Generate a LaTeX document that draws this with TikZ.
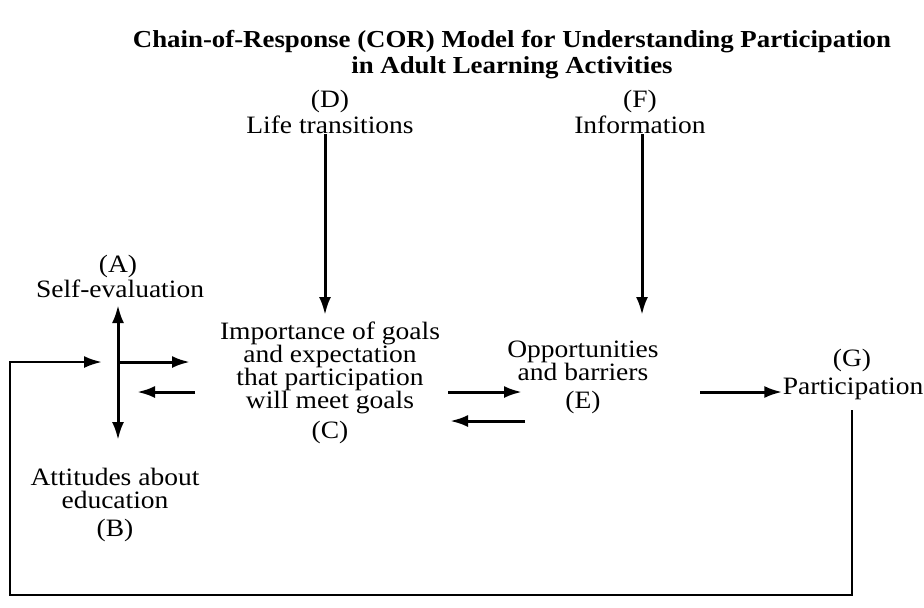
\documentclass[tikz,border=0pt]{standalone}
\usepackage{fontspec}
\setmainfont[FakeStretch=1.1]{Liberation Serif}
\usetikzlibrary{arrows.meta}
\begin{document}
\begin{tikzpicture}[x=0.5pt,y=-0.5pt,
 lbl/.style={font=\fontsize{12.5}{11.5}\selectfont, align=center, inner sep=0pt},
 tip/.style={-{Latex[length=9pt,width=6pt]}},
 arr/.style={line width=1.5pt,tip},
 ln/.style={line width=1.3pt}]
\useasboundingbox (0,0) rectangle (924,607);
\node[font=\bfseries\fontsize{12.2}{13}\selectfont, align=center, inner sep=0pt] (title) at (512,55) {Chain-of-Response (COR) Model for Understanding Participation\\in Adult Learning Activities};
% nodes
\node[lbl] (Dl) at (330,101) {(D)};
\node[lbl] (LT) at (330,125) {Life transitions};
\node[lbl] (Fl) at (640,101) {(F)};
\node[lbl] (Inf) at (640,125) {Information};
\node[lbl] (Al) at (118,266) {(A)};
\node[lbl] (SE) at (120,289) {Self-evaluation};
\node[lbl] (C) at (330,368) {Importance of goals\\and expectation\\that participation\\will meet goals};
\node[lbl] (Cl) at (330,432) {(C)};
\node[lbl] (E) at (583,361) {Opportunities\\and barriers};
\node[lbl] (El) at (583,402) {(E)};
\node[lbl] (Gl) at (852,360) {(G)};
\node[lbl] (G) at (853,389) {Participation};
\node[lbl] (B) at (115,488) {Attitudes about\\education};
\node[lbl] (Bl) at (115,530) {(B)};
% coordinates
\coordinate (dEnd) at (325,315);
\coordinate (fEnd) at (642,315);
\coordinate (vt) at (118,305);
\coordinate (vb) at (118,440);
\coordinate (cross) at (118,362);
\coordinate (toC) at (190,362);
\coordinate (fromC) at (195,392);
\coordinate (toA) at (137,392);
\coordinate (ce1) at (448,392);
\coordinate (ce2) at (522,392);
\coordinate (ec1) at (525,421);
\coordinate (ec2) at (450,421);
\coordinate (eg1) at (700,392);
\coordinate (gBot) at (852,410);
\coordinate (lbr) at (852,595);
\coordinate (lbl) at (10,595);
\coordinate (ltl) at (10,362);
\coordinate (lIn) at (102,362);
% connectors
\draw[arr] (LT.south -| dEnd) -- (dEnd);
\draw[arr] (Inf.south -| fEnd) -- (fEnd);
\draw[line width=1.5pt,{Latex[length=9pt,width=6pt]}-{Latex[length=9pt,width=6pt]}] (vt) -- (vb);
\draw[arr] (cross) -- (toC);
\draw[arr] (fromC) -- (toA);
\draw[arr] (ce1) -- (ce2);
\draw[arr] (ec1) -- (ec2);
\draw[arr] (eg1) -- (eg1 -| G.west);
\draw[ln,tip] (gBot) -- (lbr) -- (lbl) -- (ltl) -- (lIn);
\end{tikzpicture}
\end{document}
